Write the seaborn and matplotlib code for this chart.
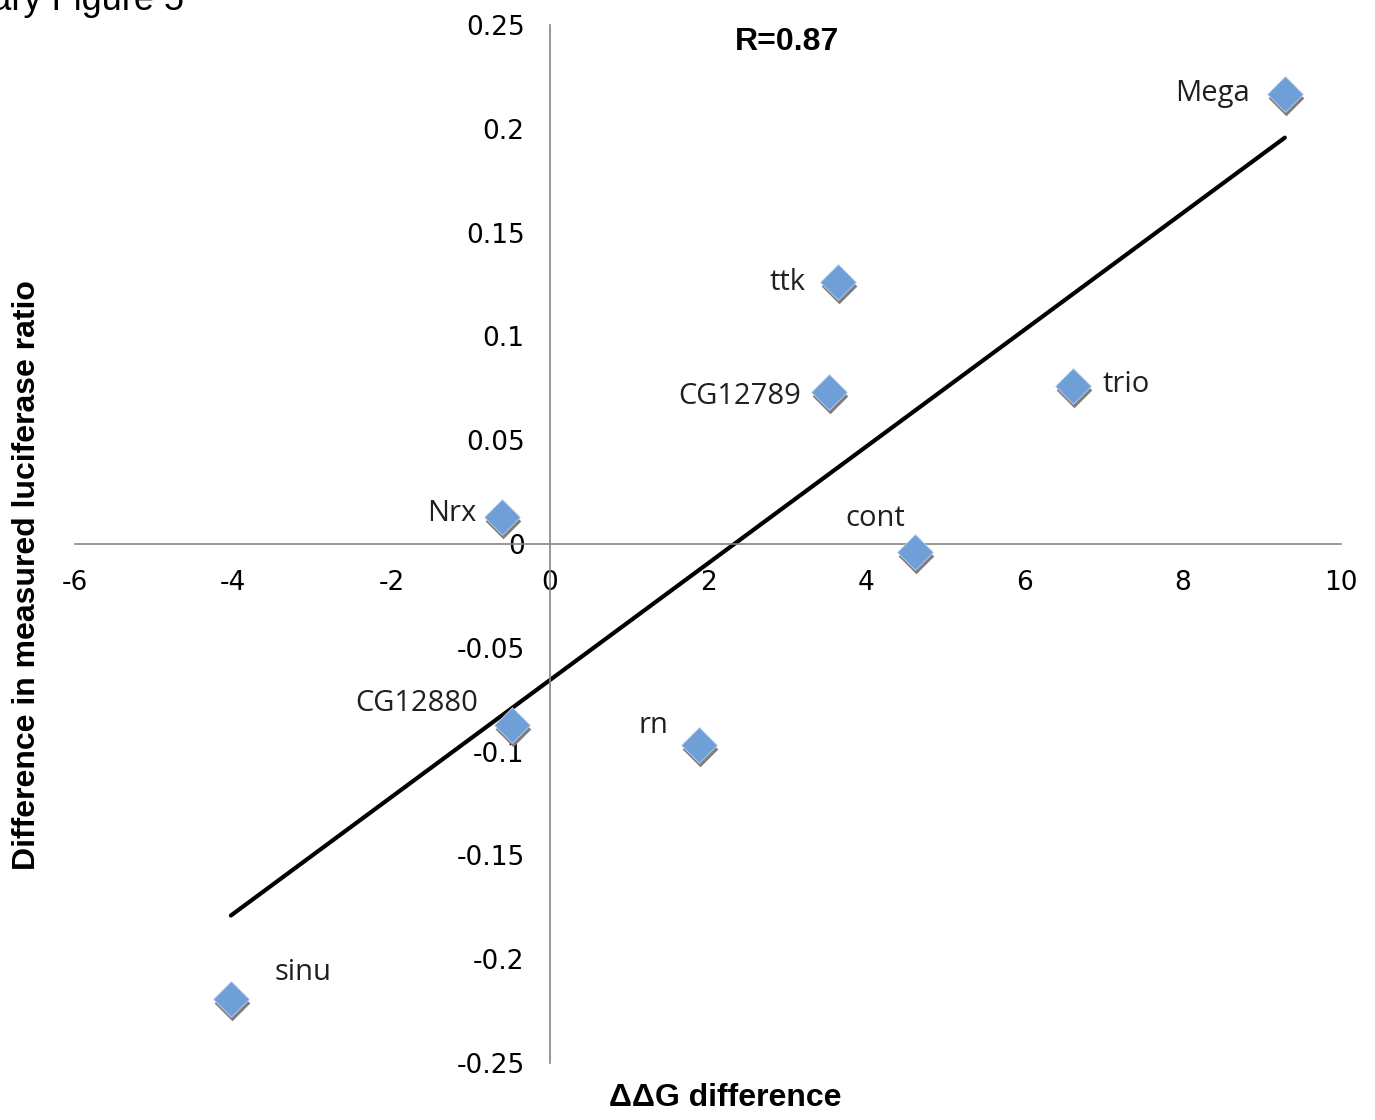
import numpy as np
import pandas as pd
import seaborn as sns
import matplotlib.pyplot as plt
import matplotlib.transforms as mtransforms

genes = ["Mega", "ttk", "CG12789", "trio", "Nrx", "cont", "CG12880", "rn", "sinu"]
ddg = [9.29, 3.64, 3.53, 6.61, -0.60, 4.62, -0.48, 1.89, -4.03]
luc_diff = [0.217, 0.126, 0.073, 0.076, 0.013, -0.004, -0.087, -0.097, -0.219]

x_ticks = [-6, -4, -2, 0, 2, 4, 6, 8, 10]
y_ticks = [-0.25, -0.2, -0.15, -0.1, -0.05, 0, 0.05, 0.1, 0.15, 0.2, 0.25]
y_ticklabels = ["-0.25", "-0.2", "-0.15", "-0.1", "-0.05", "0", "0.05", "0.1", "0.15", "0.2", "0.25"]

# label placement (pixel offsets from the point, alignment)
label_pos = {
    "Mega": (-35, 0, "right"),
    "ttk": (-32, 0, "right"),
    "CG12789": (-28, -4, "right"),
    "trio": (30, 2, "left"),
    "Nrx": (-26, 4, "right"),
    "cont": (-10, 34, "right"),
    "CG12880": (-34, 21, "right"),
    "rn": (-31, 20, "right"),
    "sinu": (44, 26, "left"),
}

df = pd.DataFrame({"gene": genes, "ddg": ddg, "luc": luc_diff})

sns.set_style("white")
plt.rcParams["axes.unicode_minus"] = False
plt.rcParams["text.color"] = "black"
fig = plt.figure(figsize=(13.75, 11.2), dpi=100)
ax = fig.add_axes([75 / 1375, 1 - 1063 / 1120, (1341 - 75) / 1375, (1063 - 25) / 1120])

sns.regplot(data=df, x="ddg", y="luc", scatter=False, ci=None, truncate=True,
            line_kws=dict(color="black", lw=3, zorder=2), ax=ax)

shadow = mtransforms.offset_copy(ax.transData, fig=fig, x=1, y=-4, units="dots")
ax.scatter(df["ddg"], df["luc"], marker="D", s=330, color="#7f7f7f",
           linewidths=0, transform=shadow, zorder=3)
sns.scatterplot(data=df, x="ddg", y="luc", marker="D", s=330, color="#6e9fd6",
                edgecolor="#b8d0ee", linewidth=0.6, ax=ax, zorder=4)

for g, xv, yv in zip(genes, ddg, luc_diff):
    dx, dy, ha = label_pos[g]
    ax.annotate(g, (xv, yv), xytext=(dx, dy), textcoords="offset pixels",
                ha=ha, va="center", fontsize=21, family="Open Sans", color="#231f20")

ax.set_xlim(-6, 10)
ax.set_ylim(-0.25, 0.25)
ax.set_xticks(x_ticks)
ax.set_yticks(y_ticks)
ax.set_yticklabels(y_ticklabels)

for side in ["top", "right"]:
    ax.spines[side].set_visible(False)
ax.spines["left"].set_position(("data", 0))
ax.spines["bottom"].set_position(("data", 0))
for side in ["left", "bottom"]:
    ax.spines[side].set_color("#858585")
    ax.spines[side].set_linewidth(1.2)

ax.tick_params(axis="both", direction="out", length=7, width=1.1, color="#858585",
               labelsize=19, labelcolor="black")
ax.tick_params(axis="x", pad=12)
ax.tick_params(axis="y", pad=11)
for lab in ax.get_xticklabels() + ax.get_yticklabels():
    lab.set_family("DejaVu Sans")

ax.set_xlabel("")
ax.set_ylabel("")
fig.text(725 / 1375, 1 - 1098 / 1120, "\u0394\u0394G difference", ha="center", va="center",
         fontsize=23, fontweight="bold", family="Liberation Sans", color="black")
fig.text(27 / 1375, 1 - 575 / 1120, "Difference in measured luciferase ratio", ha="center",
         va="center", rotation=90, fontsize=23, fontweight="bold", family="Liberation Sans",
         color="black")
ax.text(787, 0.242, "R=0.87", transform=mtransforms.blended_transform_factory(
            mtransforms.IdentityTransform(), ax.transData),
        ha="center", va="center", fontsize=23, fontweight="bold", family="Liberation Sans",
        color="black")

fig.text(184 / 1375, 1 - 10 / 1120, "Supplementary Figure 5", ha="right", va="baseline",
         fontsize=26, family="Liberation Sans", color="black")

fig.savefig("out.png", dpi=100)
